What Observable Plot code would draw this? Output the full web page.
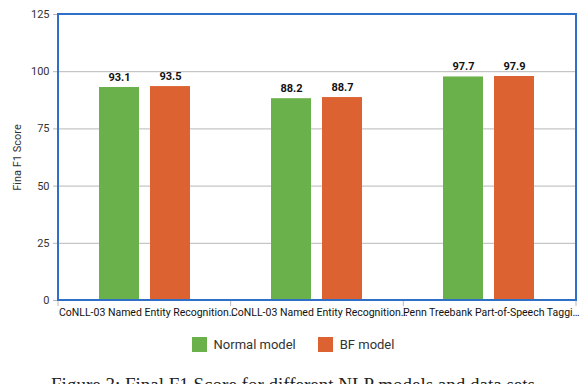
<!DOCTYPE html>
<html>
<head>
<meta charset="utf-8">
<script src="https://cdn.jsdelivr.net/npm/d3@7"></script>
<script src="https://cdn.jsdelivr.net/npm/@observablehq/plot@0.6"></script>
<style>
  body { margin: 0; background: #fff; width: 586px; height: 384px; overflow: hidden; }
  #legend { display: flex; justify-content: center; align-items: center; height: 36px;
    font-family: Roboto, "Liberation Sans", sans-serif; font-size: 13px; color: #333; }
  .item { display: flex; align-items: center; margin: 0 11px; }
  .sw { width: 15px; height: 15px; margin-right: 7px; }
  #caption { font-family: "Liberation Serif", "DejaVu Serif", serif; font-size: 19px; line-height: 19px; color: #222; text-align: center; margin-top: 13px; white-space: nowrap; }
</style>
</head>
<body>
<div id="chart"></div>
<div id="legend"></div>
<div id="caption">Figure 3: Final F1 Score for different NLP models and data sets</div>
<script>
const categories = [
  "CoNLL-03 Named Entity Recognition (A)",
  "CoNLL-03 Named Entity Recognition (B)",
  "Penn Treebank Part-of-Speech Tagging"
];
const xTickLabels = [
  "CoNLL-03 Named Entity Recognition\u2026",
  "CoNLL-03 Named Entity Recognition\u2026",
  "Penn Treebank Part-of-Speech Taggi\u2026"
];
const series = ["Normal model", "BF model"];
const normalValues = [93.1, 88.2, 97.7];
const bfValues = [93.5, 88.7, 97.9];
const yTicks = [0, 25, 50, 75, 100, 125];
const colors = ["#6ab04b", "#dd6232"];

const data = [];
categories.forEach((c, i) => {
  data.push({category: c, series: series[0], value: normalValues[i]});
  data.push({category: c, series: series[1], value: bfValues[i]});
});
const labelOf = new Map(categories.map((c, i) => [c, xTickLabels[i]]));

const W = 586, H = 326, mL = 58, mR = 10, mT = 14, mB = 26;

const plot = Plot.plot({
  width: W, height: H,
  marginLeft: mL, marginRight: mR, marginTop: mT, marginBottom: mB,
  style: {fontFamily: "Roboto, 'Liberation Sans', sans-serif", fontSize: "11px", background: "#fff"},
  fx: {domain: categories, padding: 0, label: null},
  x: {domain: series, axis: null, paddingInner: 0.21, paddingOuter: 0.76},
  y: {domain: [0, 125], label: null},
  color: {domain: series, range: colors},
  marks: [
    Plot.gridY(yTicks, {stroke: "#b8b8b8", strokeOpacity: 1}),
    Plot.axisY(yTicks, {tickSize: 6, tickPadding: 4, stroke: "#b8b8b8", fill: "#333", fontSize: 11,
      label: "Fina F1 Score", labelAnchor: "center", labelArrow: "none", labelOffset: 46}),
    Plot.axisFx({anchor: "bottom", tickSize: 0, tickPadding: 8, textAnchor: "start", dx: -86.5,
      fontSize: 10.5, fill: "#111", tickFormat: d => labelOf.get(d), label: null}),
    Plot.barY(data, {fx: "category", x: "series", y: "value", fill: "series"}),
    Plot.text(data, {fx: "category", x: "series", y: "value", text: d => d.value.toFixed(1),
      dy: -10, fontWeight: "bold", fontSize: 11, fill: "#111"})
  ]
});

document.getElementById("chart").appendChild(plot);

// frame and category boundary ticks derived from layout + fx scale
const svg = d3.select(plot.tagName.toLowerCase() === "svg" ? plot : plot.querySelector("svg"));
const fx = plot.scale("fx");
const x0 = fx.range[0], x1 = fx.range[1];
const step = (x1 - x0) / fx.domain.length;
for (let i = 0; i <= fx.domain.length; i++) {
  svg.append("line").attr("x1", x0 + i * step).attr("x2", x0 + i * step)
    .attr("y1", H - mB).attr("y2", H - mB + 6).attr("stroke", "#b8b8b8");
}
svg.append("rect").attr("x", mL).attr("y", mT).attr("width", W - mL - mR).attr("height", H - mT - mB)
  .attr("fill", "none").attr("stroke", "#2f6fc6").attr("stroke-width", 2);

const legend = d3.select("#legend");
series.forEach((s, i) => {
  const it = legend.append("div").attr("class", "item");
  it.append("div").attr("class", "sw").style("background", colors[i]);
  it.append("span").text(s);
});
</script>
</body>
</html>
